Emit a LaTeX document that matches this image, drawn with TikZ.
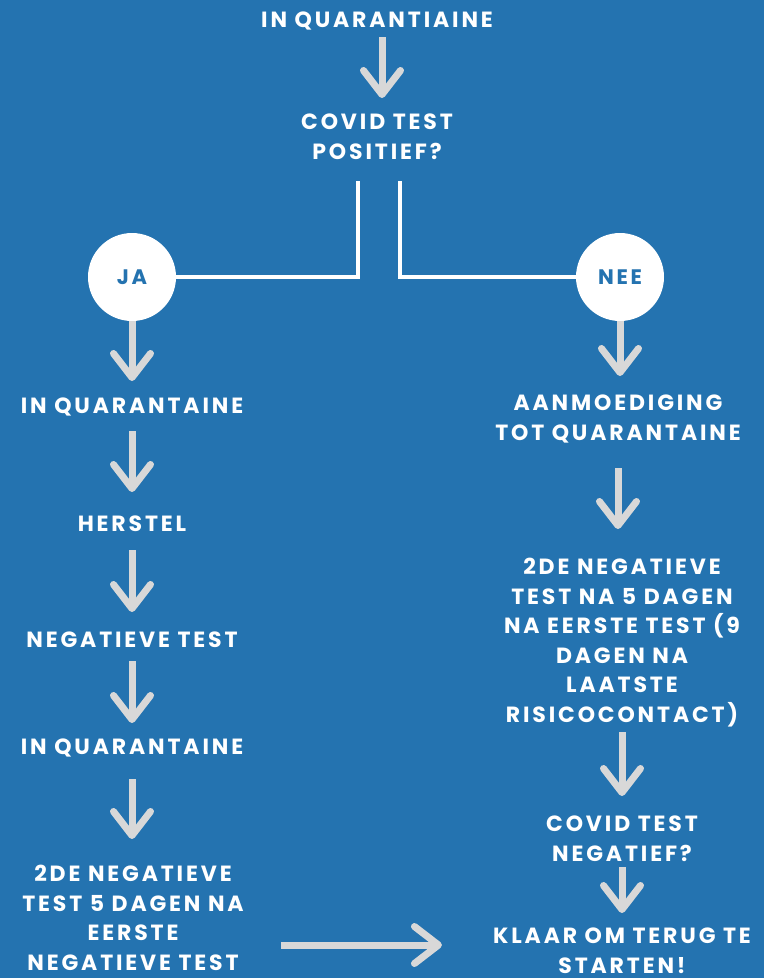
\documentclass[tikz,border=0pt]{standalone}
\usepackage{fontspec}
\newfontfamily\flowfont{Poppins}[LetterSpace=13]
\usepackage{tikz}
\usetikzlibrary{arrows.meta, positioning, calc}
\definecolor{bgblue}{HTML}{2473B0}
\definecolor{arrowgray}{HTML}{D8D8D8}
\tikzset{
  txt/.style={text=white, anchor=base, align=center, inner sep=0pt,
              font=\flowfont\bfseries\fontsize{22}{29.5}\selectfont},
  bubble/.style={circle, fill=white, minimum size=88pt, inner sep=0pt,
                 text=bgblue, font=\flowfont\bfseries\fontsize{21}{22}\selectfont},
  garrow/.style={-{Straight Barb[length=24pt, width=37pt, round]},
                 line width=7pt, draw=arrowgray},
  wline/.style={draw=white, line width=4pt},
}
\begin{document}
\begin{tikzpicture}[x=1pt, y=-1pt]
  %% Background
  \fill[bgblue] (0,0) rectangle (764,978);
  \useasboundingbox (0,0) rectangle (764,978);

  %% Top (multi-line nodes sit on their last baseline)
  \node[txt] (start) at (377,27) {IN QUARANTIAINE};
  \node[txt] (covid) at (377,159) {COVID TEST\\POSITIEF?};
  \node[bubble] (ja) at (132,277) {JA};
  \node[bubble] (nee) at (620,277) {NEE};

  %% Left branch
  \node[txt] (jaq) at (132,413) {IN QUARANTAINE};
  \node[txt] (herstel) at (132,531) {HERSTEL};
  \node[txt] (negtest) at (132,647) {NEGATIEVE TEST};
  \node[txt] (jaq2) at (132,754) {IN QUARANTAINE};
  \node[txt] (tweede) at (133,970)
    {2DE NEGATIEVE\\TEST 5 DAGEN NA\\EERSTE\\NEGATIEVE TEST};

  %% Right branch
  \node[txt] (aanm) at (618,440) {AANMOEDIGING\\TOT QUARANTAINE};
  \node[txt] (tweedeR) at (622,722)
    {2DE NEGATIEVE\\TEST NA 5 DAGEN\\NA EERSTE TEST (9\\DAGEN NA\\LAATSTE\\RISICOCONTACT)};
  \node[txt] (negatief) at (622,861) {COVID TEST\\NEGATIEF?};
  \node[txt] (klaar) at (622,973) {KLAAR OM TERUG TE\\STARTEN!};

  %% Split lines
  \draw[wline] ([xshift=-19pt, yshift=-22pt]covid.base) |- (ja);
  \draw[wline] ([xshift=23pt, yshift=-22pt]covid.base) |- (nee);

  %% Arrows
  \draw[garrow] ([xshift=5pt, yshift=-10pt]start.base) -- ([xshift=5pt, yshift=61pt]covid.base);
  \foreach \a/\s/\b/\e in {jaq/18/herstel/39, herstel/19/negtest/35,
                           negtest/14/jaq2/31, jaq2/25/tweede/131,
                           aanm/28/tweedeR/193, tweedeR/10/negatief/65,
                           negatief/6/klaar/60}{
    \draw[garrow] ([yshift=-\s pt]\a.base) -- ([yshift=\e pt]\a.base |- \b.base);
  }
  \draw[garrow] (ja.south) -- ([yshift=32pt]ja.south |- jaq.base);
  \draw[garrow] (nee.south) -- ([yshift=64pt]nee.south |- aanm.base);
  \draw[garrow, shorten <=37pt, shorten >=51pt]
    ([yshift=28pt]tweede.east |- klaar.base) -- ([yshift=28pt]klaar.west |- klaar.base);
\end{tikzpicture}
\end{document}
